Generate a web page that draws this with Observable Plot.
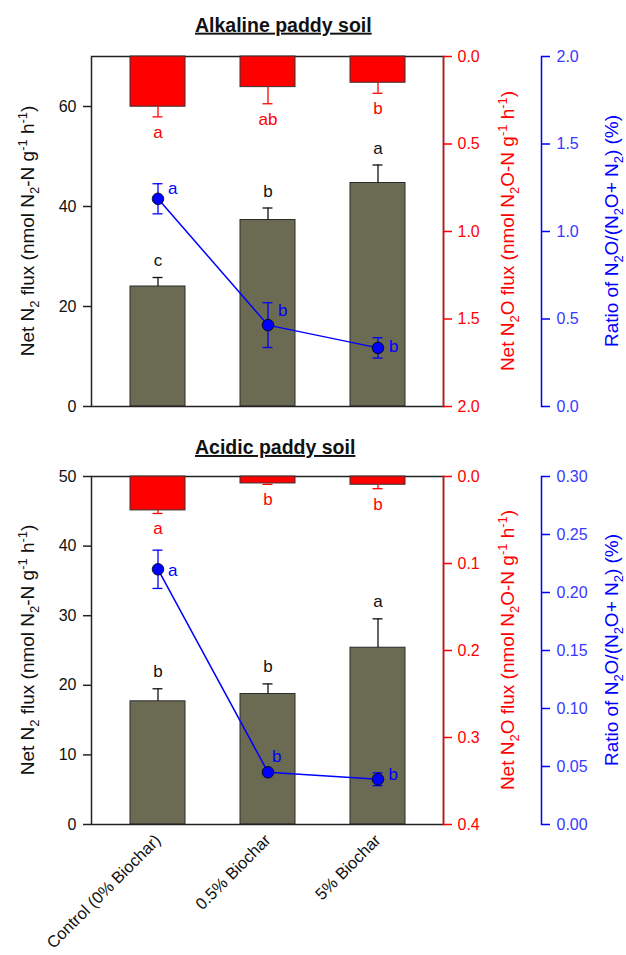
<!DOCTYPE html>
<html><head><meta charset="utf-8">
<script src="https://cdn.jsdelivr.net/npm/d3@7"></script>
<script src="https://cdn.jsdelivr.net/npm/@observablehq/plot@0.6"></script>
<style>
html,body{margin:0;padding:0;background:#fff;}
#fig{position:relative;width:626px;height:955px;overflow:hidden;font-family:"Liberation Sans",Arial,sans-serif;}
.panel{position:absolute;left:0;width:626px;}
.panel svg{position:absolute;left:0;top:0;}
#ann{position:absolute;left:0;top:0;pointer-events:none;}
</style></head><body><div id="fig"></div>
<script>
// ---------- data ----------
const categories = ["Control (0% Biochar)", "0.5% Biochar", "5% Biochar"];

// Alkaline paddy soil
const alkN2 = [24.0, 37.3, 44.7];
const alkN2Err = [1.8, 2.4, 3.6];
const alkN2Letters = ["c", "b", "a"];
const alkN2O = [0.287, 0.175, 0.150];
const alkN2OErr = [0.058, 0.095, 0.060];
const alkN2OLetters = ["a", "ab", "b"];
const alkRatio = [1.187, 0.465, 0.335];
const alkRatioErr = [0.086, 0.128, 0.058];
const alkRatioLetters = ["a", "b", "b"];
const alkN2Ticks = [0, 20, 40, 60];
const alkN2OTicks = [0, 0.5, 1.0, 1.5, 2.0];
const alkRatioTicks = [0, 0.5, 1.0, 1.5, 2.0];

// Acidic paddy soil
const acdN2 = [17.7, 18.75, 25.4];
const acdN2Err = [1.8, 1.45, 4.15];
const acdN2Letters = ["b", "b", "a"];
const acdN2O = [0.039, 0.008, 0.0095];
const acdN2OErr = [0.0035, 0.001, 0.0045];
const acdN2OLetters = ["a", "b", "b"];
const acdRatio = [0.220, 0.045, 0.039];
const acdRatioErr = [0.0165, 0.0015, 0.0055];
const acdRatioLetters = ["a", "b", "b"];
const acdN2Ticks = [0, 10, 20, 30, 40, 50];
const acdN2OTicks = [0, 0.1, 0.2, 0.3, 0.4];
const acdRatioTicks = [0, 0.05, 0.10, 0.15, 0.20, 0.25, 0.30];

// ---------- layout / style ----------
const W = 626;
const FONT = "Liberation Sans, Arial, sans-serif";
const BAR = "#6b6a53", RED = "#ff0000", BLUE = "#0000ff", BLUE_TXT = "#3838ff";
const TICK_FS = 16, LETTER_FS = 17;
const xRange = [91, 443];
const fig = document.getElementById("fig");

function makePanel(cfg) {
  const data = categories.map((c, i) => ({
    cat: c,
    n2: cfg.n2[i], n2e: cfg.n2Err[i], n2l: cfg.n2Letters[i],
    n2o: cfg.n2o[i], n2oe: cfg.n2oErr[i], n2ol: cfg.n2oLetters[i],
    r: cfg.ratio[i], re: cfg.ratioErr[i], rl: cfg.ratioLetters[i],
    bdx: cfg.blueDx[i], bdy: cfg.blueDy[i]
  }));
  const div = document.createElement("div");
  div.className = "panel";
  div.style.top = cfg.top + "px";
  div.style.height = cfg.height + "px";
  fig.appendChild(div);
  const xs = {domain: categories, range: xRange, paddingInner: 0.5, paddingOuter: 0.35, axis: null};
  const common = {
    width: W, height: cfg.height, marginTop: cfg.mt, marginBottom: cfg.mb, marginLeft: 91,
    style: {background: "transparent", fontFamily: FONT, overflow: "visible"}
  };

  // main (N2) layer
  const mainMarks = [
    Plot.barY(data, {x: "cat", y: "n2", fill: BAR, stroke: "#2b2b2b", strokeWidth: 1}),
    Plot.ruleX(data, {x: "cat", y1: "n2", y2: d => d.n2 + d.n2e, stroke: "#111", strokeWidth: 1.3}),
    Plot.tickY(data, {x: "cat", y: d => d.n2 + d.n2e, insetLeft: 22.5, insetRight: 22.5, stroke: "#111", strokeWidth: 1.3}),
    Plot.text(data, {x: "cat", y: d => d.n2 + d.n2e, text: "n2l", dy: -11.5, lineAnchor: "bottom", fontSize: LETTER_FS, fill: "#111"}),
    Plot.frame({stroke: "#222", strokeWidth: 1.5}),
    Plot.axisY({ticks: cfg.n2Ticks, tickSize: 8, tickPadding: 7, fontSize: TICK_FS, label: null, stroke: "#222", strokeWidth: 1.5, fill: "#111"})
  ];
  if (cfg.xLabels) mainMarks.push(Plot.axisX({tickRotate: -45, tickSize: 0, tickPadding: 13, fontSize: 16.5, label: null, fill: "#111"}));
  const main = Plot.plot({
    ...common, marginRight: W - 443,
    x: {...xs, axis: null},
    y: {domain: cfg.n2Domain, axis: null},
    marks: mainMarks
  });
  div.appendChild(main);

  // red (N2O) layer
  const red = Plot.plot({
    ...common, marginRight: W - 443,
    x: xs,
    y: {domain: cfg.n2oDomain, reverse: true, axis: null},
    marks: [
      Plot.barY(data, {x: "cat", y: "n2o", fill: RED, stroke: "#333", strokeWidth: 1}),
      Plot.ruleX(data, {x: "cat", y1: "n2o", y2: d => d.n2o + d.n2oe, stroke: RED, strokeWidth: 1.3}),
      Plot.tickY(data, {x: "cat", y: d => d.n2o + d.n2oe, insetLeft: 22.5, insetRight: 22.5, stroke: RED, strokeWidth: 1.3}),
      Plot.text(data, {x: "cat", y: d => d.n2o + d.n2oe, text: "n2ol", dy: 21, lineAnchor: "bottom", fontSize: LETTER_FS, fill: RED}),
      Plot.frame({anchor: "right", stroke: RED, strokeWidth: 1.5}),
      Plot.axisY({anchor: "right", ticks: cfg.n2oTicks, tickFormat: d3.format(".1f"), tickSize: 8, tickPadding: 6, fontSize: TICK_FS, label: null, stroke: RED, strokeWidth: 1.5, fill: RED})
    ]
  });
  div.appendChild(red);

  // blue (ratio) layer
  const blue = Plot.plot({
    ...common, marginRight: W - 541,
    x: xs,
    y: {domain: cfg.ratioDomain, axis: null},
    marks: [
      Plot.ruleX(data, {x: "cat", y1: d => d.r - d.re, y2: d => d.r + d.re, stroke: BLUE, strokeWidth: 1.3}),
      Plot.tickY(data, {x: "cat", y: d => d.r + d.re, insetLeft: 22.5, insetRight: 22.5, stroke: BLUE, strokeWidth: 1.3}),
      Plot.tickY(data, {x: "cat", y: d => d.r - d.re, insetLeft: 22.5, insetRight: 22.5, stroke: BLUE, strokeWidth: 1.3}),
      Plot.line(data, {x: "cat", y: "r", stroke: BLUE, strokeWidth: 1.5}),
      Plot.dot(data, {x: "cat", y: "r", r: 5.8, fill: BLUE, stroke: "#000", strokeWidth: 0.8}),
      ...data.map(d => Plot.text([d], {x: "cat", y: "r", text: "rl", dx: d.bdx, dy: d.bdy, textAnchor: "start", lineAnchor: "bottom", fontSize: LETTER_FS, fill: BLUE})),
      Plot.frame({anchor: "right", stroke: BLUE, strokeWidth: 1.5}),
      Plot.axisY({anchor: "right", ticks: cfg.ratioTicks, tickFormat: d3.format(cfg.ratioFmt), tickSize: 8, tickPadding: 7, fontSize: TICK_FS, label: null, stroke: BLUE, strokeWidth: 1.5, fill: BLUE_TXT})
    ]
  });
  div.appendChild(blue);
}

makePanel({
  top: 0, height: 430, mt: 56, mb: 24,
  n2: alkN2, n2Err: alkN2Err, n2Letters: alkN2Letters, n2Domain: [0, 70], n2Ticks: alkN2Ticks,
  n2o: alkN2O, n2oErr: alkN2OErr, n2oLetters: alkN2OLetters, n2oDomain: [0, 2], n2oTicks: alkN2OTicks,
  ratio: alkRatio, ratioErr: alkRatioErr, ratioLetters: alkRatioLetters, ratioDomain: [0, 2], ratioTicks: alkRatioTicks, ratioFmt: ".1f",
  blueDx: [10, 10, 11], blueDy: [-5, -9, 4.5], xLabels: false
});
makePanel({
  top: 430, height: 525, mt: 46, mb: 131,
  n2: acdN2, n2Err: acdN2Err, n2Letters: acdN2Letters, n2Domain: [0, 50], n2Ticks: acdN2Ticks,
  n2o: acdN2O, n2oErr: acdN2OErr, n2oLetters: acdN2OLetters, n2oDomain: [0, 0.4], n2oTicks: acdN2OTicks,
  ratio: acdRatio, ratioErr: acdRatioErr, ratioLetters: acdRatioLetters, ratioDomain: [0, 0.3], ratioTicks: acdRatioTicks, ratioFmt: ".2f",
  blueDx: [10, 4, 10.5], blueDy: [7, -10, 1], xLabels: true
});

// ---------- titles & axis titles (real text) ----------
const ann = d3.select(fig).append("svg").attr("id", "ann").attr("width", W).attr("height", 955)
  .style("font-family", FONT);

function title(x, y, str) {
  ann.append("text").attr("x", x).attr("y", y).attr("font-size", 19.5).attr("font-weight", "bold")
    .attr("fill", "#111").attr("text-decoration", "underline").text(str);
}
title(195, 31.7, "Alkaline paddy soil");
title(195, 454, "Acidic paddy soil");

function rich(x, y, fill, size, parts) {
  const t = ann.append("text").attr("transform", `translate(${x},${y}) rotate(-90)`)
    .attr("text-anchor", "middle").attr("fill", fill).attr("font-size", size);
  let shift = 0;
  for (const [s, k] of parts) {
    const target = k === 1 ? 5 : k === 2 ? -7.5 : 0;
    t.append("tspan").attr("dy", target - shift).attr("font-size", k ? size * 0.68 : size).text(s);
    shift = target;
  }
}
const n2Title = [["Net N", 0], ["2", 1], [" flux (nmol N", 0], ["2", 1], ["-N g", 0], ["-1", 2], [" h", 0], ["-1", 2], [")", 0]];
const n2oTitle = [["Net N", 0], ["2", 1], ["O flux (nmol N", 0], ["2", 1], ["O-N g", 0], ["-1", 2], [" h", 0], ["-1", 2], [")", 0]];
const ratioTitle = [["Ratio of N", 0], ["2", 1], ["O/(N", 0], ["2", 1], ["O+ N", 0], ["2", 1], [") (%)", 0]];
for (const cy of [231, 650]) {
  rich(34, cy, "#111", 19, n2Title);
  rich(514, cy, RED, 19, n2oTitle);
  rich(618, cy, BLUE, 19, ratioTitle);
}
</script></body></html>
